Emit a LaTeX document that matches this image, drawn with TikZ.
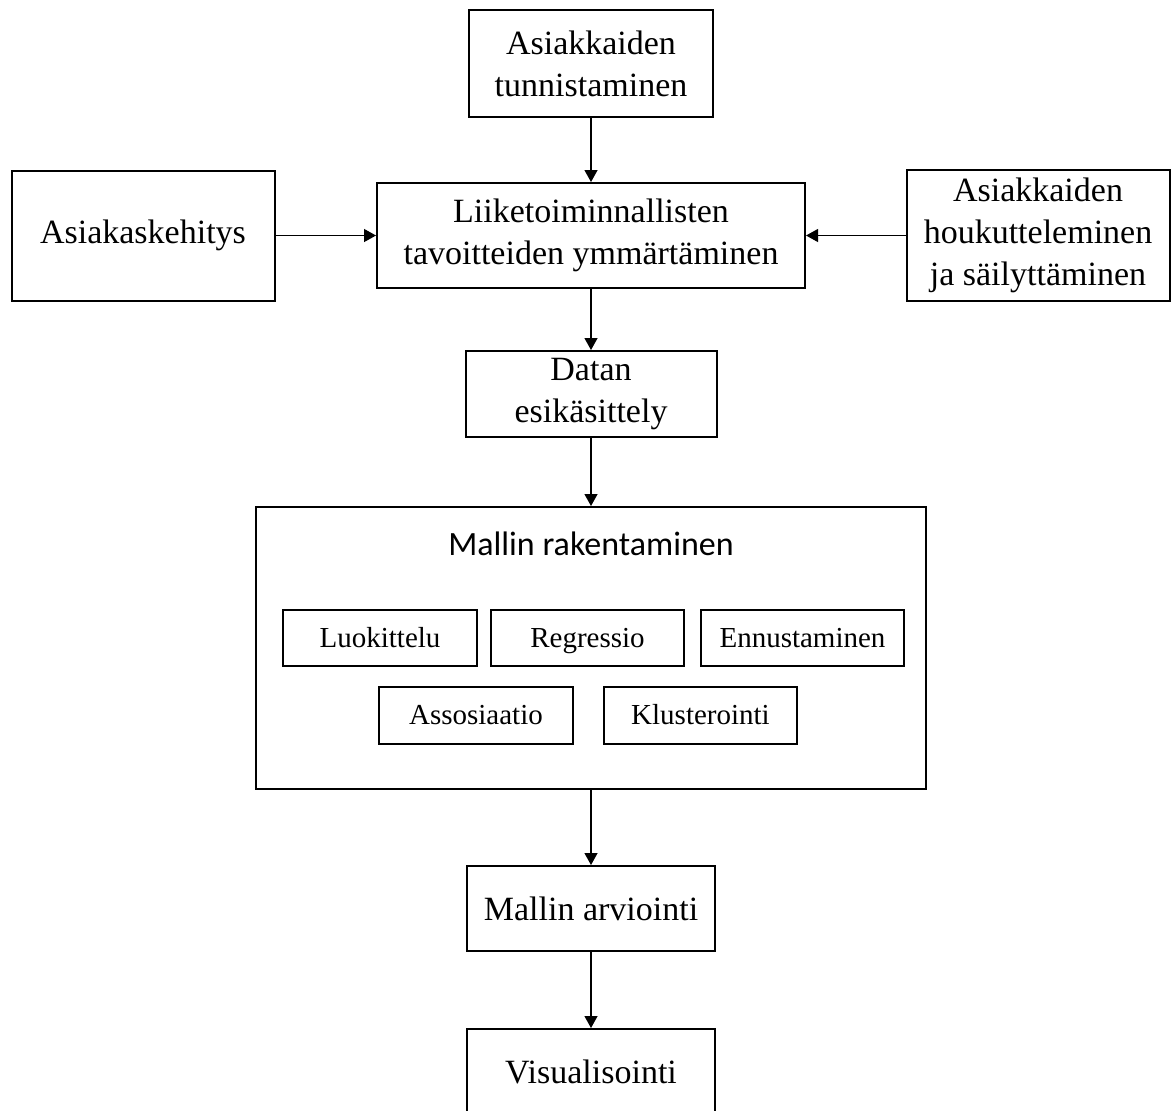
\documentclass[tikz,border=0pt]{standalone}
\usepackage{fontspec}
\setmainfont{Liberation Serif}
\newfontfamily\titlefont{Carlito}
\usetikzlibrary{positioning, arrows.meta}

\tikzset{
  box/.style={draw, line width=1pt, align=center, inner sep=0pt, font=\fontsize{17}{21}\selectfont},
  subbox/.style={draw, line width=1pt, align=center, inner sep=0pt, minimum width=97pt, minimum height=28pt,
    text height=11pt, text depth=2pt, font=\fontsize{14.5}{17}\selectfont},
}

\begin{document}
\begin{tikzpicture}[node distance=80pt,on grid,>={Triangle[length=6pt,width=6.5pt]},line width=0.6pt]
  \useasboundingbox (0,0) rectangle (585.5pt,-555pt);
  % paasarake
  \node[box,minimum width=122pt,minimum height=53.5pt] (tunn) at (295.5pt,-31.75pt) {Asiakkaiden\\tunnistaminen};
  \node[box,minimum width=214pt,minimum height=52.5pt] (liike) [below=86pt of tunn] {Liiketoiminnallisten\\tavoitteiden ymmärtäminen};
  \node[box,minimum width=131.5pt,minimum height=65pt] (kehitys) [left=224pt of liike] {Asiakaskehitys};
  \node[box,minimum width=131.5pt,minimum height=65.5pt] (houk) [right=223.5pt of liike] {Asiakkaiden\\houkutteleminen\\ja säilyttäminen};
  \node[box,minimum width=125.5pt,minimum height=43pt] (datan) [below=79.25pt of liike] {Datan\\esikäsittely};

  % mallin rakentaminen ja menetelmat
  \node[draw,line width=1pt,minimum width=335pt,minimum height=141pt] (malli) [below=127pt of datan] {};
  \node[font=\titlefont\fontsize{17}{21}\selectfont] (otsikko) at ([yshift=52pt]malli.center) {Mallin rakentaminen};
  \node[subbox,minimum width=96.5pt] (regr) at ([shift={(-1.75pt,5pt)}]malli.center) {Regressio};
  \node[subbox] (luok) [left=103.75pt of regr] {Luokittelu};
  \node[subbox,minimum width=101.5pt] (ennu) [right=107.5pt of regr] {Ennustaminen};
  \node[subbox,minimum height=28.5pt] (asso) at ([shift={(-57.5pt,-33.75pt)}]malli.center) {Assosiaatio};
  \node[subbox,minimum width=96.5pt,minimum height=28.5pt] (klus) [right=112.25pt of asso] {Klusterointi};

  \node[box,minimum width=124pt,minimum height=42.5pt] (arvi) [below=130.25pt of malli] {Mallin arviointi};
  \node[box,minimum width=124pt,minimum height=43pt] (visu) [below=81.75pt of arvi] {Visualisointi};

  \path[->]
    (tunn) edge (liike)
    (kehitys) edge (liike)
    (houk) edge (liike)
    (liike) edge (datan)
    (datan) edge (malli)
    (malli) edge (arvi)
    (arvi) edge (visu);
\end{tikzpicture}
\end{document}
